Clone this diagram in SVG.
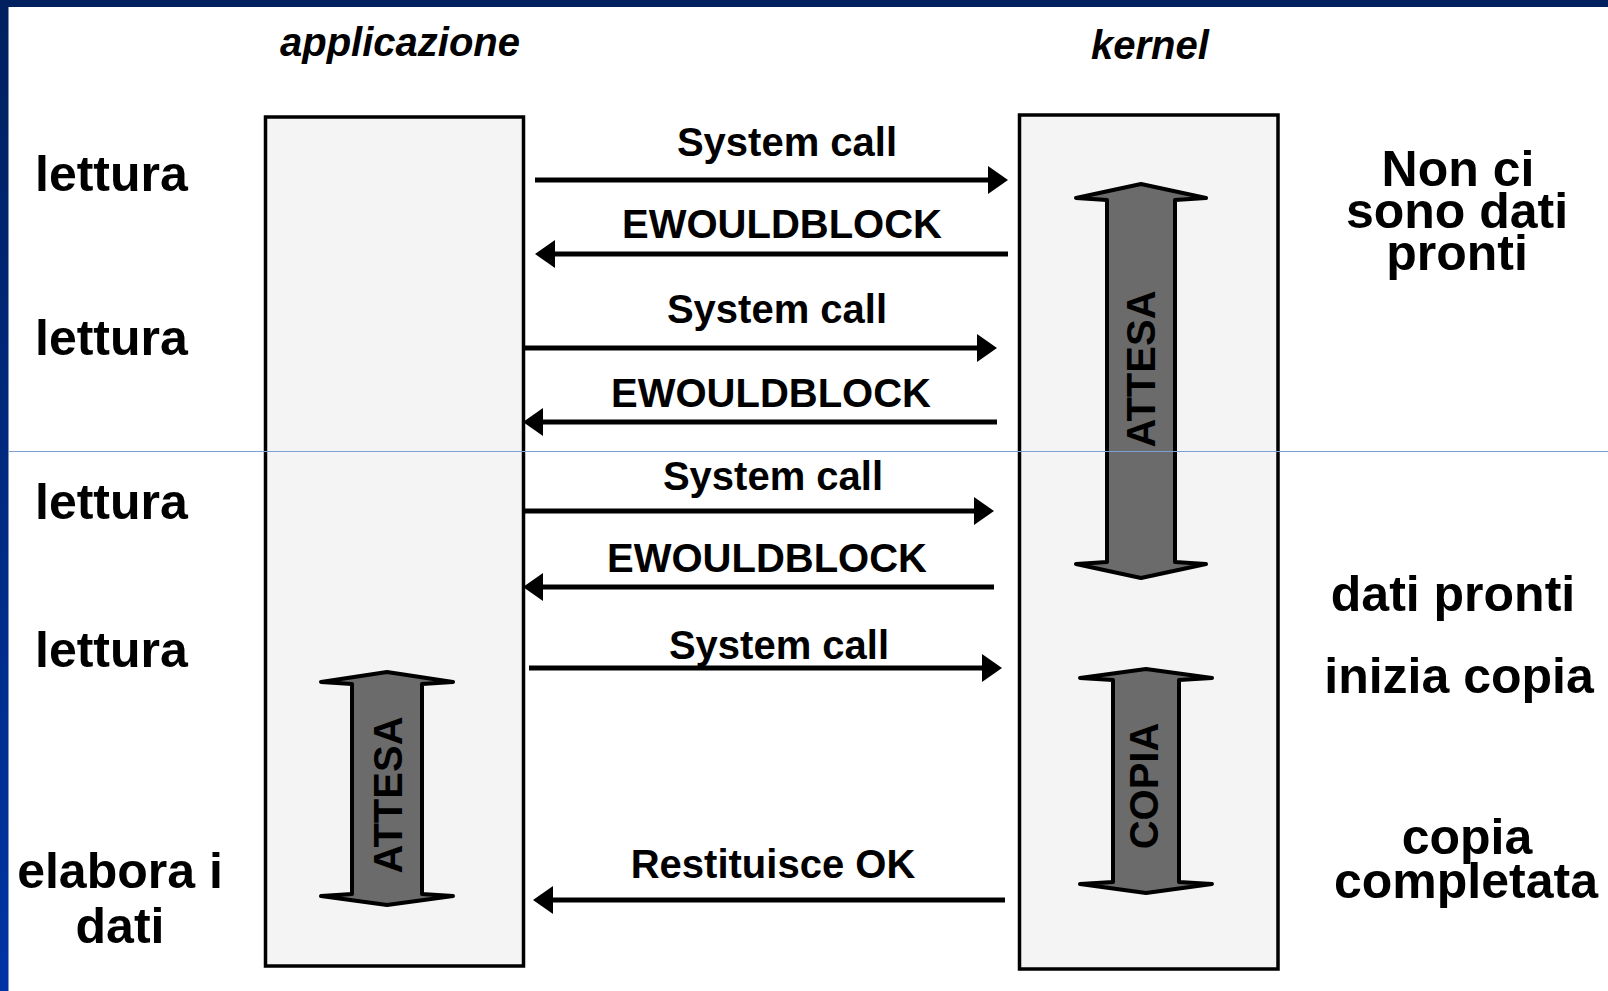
<svg xmlns="http://www.w3.org/2000/svg" width="1608" height="991" viewBox="0 0 1608 991">
<style>
text{font-family:"Liberation Sans",Arial,sans-serif;font-weight:bold;fill:#000}
.lbl{font-size:50px}
.msg{font-size:40px;text-anchor:middle}
.hdr{font-size:40px;font-style:italic;text-anchor:middle}
.mid{text-anchor:middle}
.blk{font-size:40px;text-anchor:middle}
.box{fill:#f4f4f4;stroke:#000;stroke-width:3.5}
.ba{fill:#6b6b6b;stroke:#000;stroke-width:4;stroke-linejoin:round}
.ar{stroke:#000;stroke-width:5;fill:none}
</style>
<defs>
<linearGradient id="lg" x1="0" y1="0" x2="0" y2="1">
<stop offset="0" stop-color="#00205f"/>
<stop offset="1" stop-color="#0034a4"/>
</linearGradient>
<marker id="ah" viewBox="0 0 20 28" refX="16" refY="14" markerWidth="20" markerHeight="28" markerUnits="userSpaceOnUse" orient="auto">
<path d="M0,0 L20,14 L0,28 Z" fill="#000"/>
</marker>
</defs>
<rect x="0" y="0" width="1608" height="991" fill="#fff"/>
<rect x="0" y="0" width="1608" height="7" fill="#00205f"/>
<rect x="0" y="0" width="8.5" height="991" fill="url(#lg)"/>

<g id="applicazione">
<rect class="box" x="265.5" y="117" width="258" height="849"/>
<text class="hdr" x="400" y="56">applicazione</text>
</g>
<g id="kernel">
<rect class="box" x="1019.5" y="115" width="258.5" height="854"/>
<text class="hdr" x="1150" y="59">kernel</text>
</g>

<g id="attesa-kernel">
<polygon class="ba" points="1141,184 1206,198 1175,200 1175,562 1206,564 1141,578 1076,564 1107,562 1107,200 1076,198"/>
<text class="blk" transform="translate(1141,369) rotate(-90)" x="0" y="14">ATTESA</text>
</g>
<g id="copia-kernel">
<polygon class="ba" points="1146,669 1212,678 1179,680 1179,882 1212,884 1146,893 1080,884 1113,882 1113,680 1080,678"/>
<text class="blk" transform="translate(1144,786) rotate(-90)" x="0" y="14">COPIA</text>
</g>
<g id="attesa-app">
<polygon class="ba" points="387,672 453,682 422,684 422,894 453,896 387,905 321,896 352,894 352,684 321,682"/>
<text class="blk" transform="translate(388,795) rotate(-90)" x="0" y="14">ATTESA</text>
</g>

<g id="left-labels">
<text class="lbl" x="35" y="191">lettura</text>
<text class="lbl" x="35" y="355">lettura</text>
<text class="lbl" x="35" y="519">lettura</text>
<text class="lbl" x="35" y="667">lettura</text>
<text class="lbl mid" x="120" y="888">elabora i</text>
<text class="lbl mid" x="120" y="943">dati</text>
</g>

<g id="right-labels">
<text class="lbl mid" x="1458" y="186">Non ci</text>
<text class="lbl mid" x="1457" y="228">sono dati</text>
<text class="lbl mid" x="1457" y="270">pronti</text>
<text class="lbl mid" x="1453" y="611">dati pronti</text>
<text class="lbl mid" x="1459" y="693">inizia copia</text>
<text class="lbl mid" x="1467" y="854">copia</text>
<text class="lbl mid" x="1466" y="898">completata</text>
</g>

<g id="connectors">
<line class="ar" x1="535" y1="180" x2="1004" y2="180" marker-end="url(#ah)"/>
<text class="msg" x="787" y="156">System call</text>
<line class="ar" x1="1008" y1="254" x2="539" y2="254" marker-end="url(#ah)"/>
<text class="msg" x="782" y="238">EWOULDBLOCK</text>
<line class="ar" x1="523" y1="348" x2="993" y2="348" marker-end="url(#ah)"/>
<text class="msg" x="777" y="323">System call</text>
<line class="ar" x1="997" y1="422" x2="527" y2="422" marker-end="url(#ah)"/>
<text class="msg" x="771" y="407">EWOULDBLOCK</text>
<line class="ar" x1="523" y1="511" x2="990" y2="511" marker-end="url(#ah)"/>
<text class="msg" x="773" y="490">System call</text>
<line class="ar" x1="994" y1="587" x2="527" y2="587" marker-end="url(#ah)"/>
<text class="msg" x="767" y="572">EWOULDBLOCK</text>
<line class="ar" x1="529" y1="668" x2="998" y2="668" marker-end="url(#ah)"/>
<text class="msg" x="779" y="659">System call</text>
<line class="ar" x1="1005" y1="900" x2="537" y2="900" marker-end="url(#ah)"/>
<text class="msg" x="773" y="878">Restituisce OK</text>
</g>

<line x1="8.5" y1="451.5" x2="1608" y2="451.5" stroke="#7f9fd4" stroke-width="1"/>
</svg>
